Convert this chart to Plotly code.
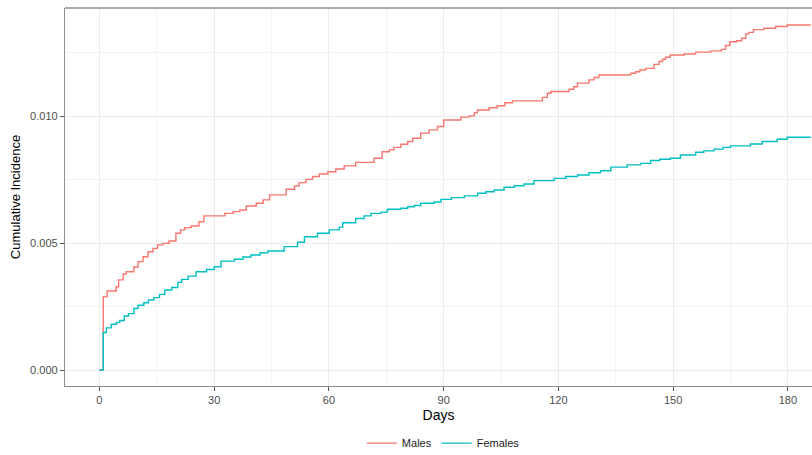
import plotly.graph_objects as go

# Males cumulative incidence (step function)
days_m = [0, 1, 2, 4.4, 5, 6.2, 7, 9, 10.1, 11.4, 12.7, 14, 15.2, 16.6, 18.2, 20, 21.2, 22.3, 24, 26, 27.3,
          32.8, 35, 36.7, 38.4, 41, 42.8, 44.5, 48.8, 51, 52.2, 54, 55.7, 57.5, 59.7, 61.8, 64, 67, 71.8,
          73.9, 75.8, 77, 78.8, 80.6, 81.9, 84, 86.2, 88.4, 90, 94.5, 96.7, 98, 98.8, 101.9, 104, 106, 108,
          115.8, 117.1, 118, 122.8, 124, 125, 128, 129.3, 130.6, 138.9, 140.2, 141.3, 142.8, 145, 146.3,
          147.2, 148, 149.2, 152.8, 155.9, 159.8, 162.6, 163.7, 164.8, 166.6, 167.9, 169, 169.8, 171,
          173.7, 176.8, 179.8, 186]
cum_m = [0, 0.00288, 0.00311, 0.00328, 0.00355, 0.00378, 0.00387, 0.00406, 0.00427, 0.00446, 0.00466,
         0.00479, 0.00493, 0.00499, 0.00508, 0.00539, 0.00552, 0.00561, 0.00567, 0.00584, 0.00607,
         0.00617, 0.00624, 0.0063, 0.00646, 0.00657, 0.0067, 0.0069, 0.00712, 0.00725, 0.00738, 0.00751,
         0.00762, 0.00772, 0.00781, 0.00792, 0.00804, 0.00818, 0.00834, 0.0086, 0.00867, 0.00877,
         0.00889, 0.009, 0.00913, 0.00933, 0.00946, 0.00959, 0.00985, 0.00996, 0.01001, 0.01014,
         0.01024, 0.01033, 0.01041, 0.01053, 0.0106, 0.01074, 0.0109, 0.01097, 0.01106, 0.01116,
         0.0113, 0.01143, 0.01152, 0.01162, 0.01169, 0.01175, 0.01182, 0.01188, 0.01204, 0.01215,
         0.01224, 0.01232, 0.01241, 0.01245, 0.01252, 0.01257, 0.01263, 0.01278, 0.01293, 0.01297,
         0.01307, 0.01324, 0.0133, 0.01341, 0.01346, 0.01353, 0.01359, 0.01359]

# Females cumulative incidence (step function)
days_f = [0, 1, 1.8, 3.1, 4.4, 5.3, 6.5, 7.6, 9, 10.1, 11.6, 12.8, 14.2, 15.7, 17.1, 18.9, 20.5, 21.5,
          23.2, 25.3, 28, 30, 31.8, 35.3, 37.5, 39.6, 42, 44, 48.3, 51.8, 53.6, 57, 60.1, 62.7, 63.6, 67,
          69.2, 71, 73.6, 75.3, 78.8, 80.6, 82.3, 84, 87.5, 89.3, 92, 95.4, 98.9, 101, 103.2, 105.8,
          108.5, 111, 113.6, 118.9, 121.9, 125, 128, 131, 133.7, 138, 141.5, 144.1, 146.5, 149.3, 151.9,
          155.9, 158, 160.7, 163, 165, 170.2, 173.3, 177.2, 179.8, 186]
cum_f = [0, 0.00148, 0.00166, 0.0018, 0.00187, 0.00195, 0.00213, 0.00222, 0.00242, 0.00255, 0.00265,
         0.00276, 0.00285, 0.00298, 0.00315, 0.00325, 0.00345, 0.00357, 0.0037, 0.00387, 0.00396,
         0.00407, 0.00429, 0.00436, 0.00445, 0.00453, 0.00462, 0.00469, 0.00486, 0.00503, 0.00525,
         0.00539, 0.00552, 0.00563, 0.0058, 0.00597, 0.00607, 0.00617, 0.00622, 0.00633, 0.00637,
         0.00643, 0.00648, 0.00657, 0.00662, 0.00672, 0.00679, 0.00686, 0.00696, 0.00702, 0.00709,
         0.0072, 0.00726, 0.00733, 0.00746, 0.00755, 0.00762, 0.00768, 0.00777, 0.00785, 0.00799,
         0.00808, 0.00814, 0.00825, 0.0083, 0.00834, 0.00847, 0.00858, 0.00863, 0.0087, 0.00877,
         0.00883, 0.0089, 0.009, 0.00909, 0.00917, 0.00917]

x_ticks = [0, 30, 60, 90, 120, 150, 180]
y_ticks = [0.0, 0.005, 0.010]
y_tick_labels = ["0.000", "0.005", "0.010"]

FONT = "Liberation Sans, Arial, Helvetica, sans-serif"

fig = go.Figure()
fig.add_trace(go.Scatter(x=days_m, y=cum_m, mode="lines", name="Males",
                         line=dict(color="#F8766D", width=1.4, shape="hv")))
fig.add_trace(go.Scatter(x=days_f, y=cum_f, mode="lines", name="Females",
                         line=dict(color="#00BFC4", width=1.4, shape="hv")))

fig.update_layout(
    width=812, height=455,
    margin=dict(l=65, r=0, t=8, b=69, autoexpand=False),
    paper_bgcolor="white", plot_bgcolor="white",
    font=dict(family=FONT, color="#1a1a1a"),
    showlegend=True,
    legend=dict(orientation="h", xref="container", yref="container",
                x=0.546, xanchor="center", y=0.058, yanchor="top",
                font=dict(size=11, color="#1a1a1a"), itemwidth=30, tracegroupgap=0),
    xaxis=dict(
        range=[-9, 186.3], tickvals=x_ticks, ticktext=[str(v) for v in x_ticks],
        showgrid=True, gridcolor="#EBEBEB", gridwidth=1,
        minor=dict(dtick=15, tick0=0, showgrid=True, gridcolor="#F3F3F3", gridwidth=0.6),
        ticks="outside", ticklen=4, tickwidth=1, tickcolor="#555555",
        tickfont=dict(size=11, color="#4D4D4D"),
        showline=True, linecolor="#8f8f8f", linewidth=1.3,
        zeroline=False, automargin=False,
        title=dict(text="Days", font=dict(size=14, color="#000000"), standoff=4),
    ),
    yaxis=dict(
        range=[-0.00063, 0.01426], tickvals=y_ticks, ticktext=y_tick_labels,
        showgrid=True, gridcolor="#EBEBEB", gridwidth=1,
        minor=dict(dtick=0.0025, tick0=0, showgrid=True, gridcolor="#F3F3F3", gridwidth=0.6),
        ticks="outside", ticklen=4, tickwidth=1, tickcolor="#555555",
        tickfont=dict(size=11, color="#4D4D4D"),
        showline=True, linecolor="#8f8f8f", linewidth=1.3,
        zeroline=False, automargin=False,
        title=dict(text="Cumulative Incidence", font=dict(size=13, color="#000000"), standoff=6),
    ),
)
# top border of the panel
fig.add_shape(type="line", xref="paper", yref="paper", x0=0, x1=1, y0=1, y1=1,
              line=dict(color="#8f8f8f", width=1.3))

fig.write_html("out.html", config={"displayModeBar": False},
               post_script="document.body.style.margin='0';")
